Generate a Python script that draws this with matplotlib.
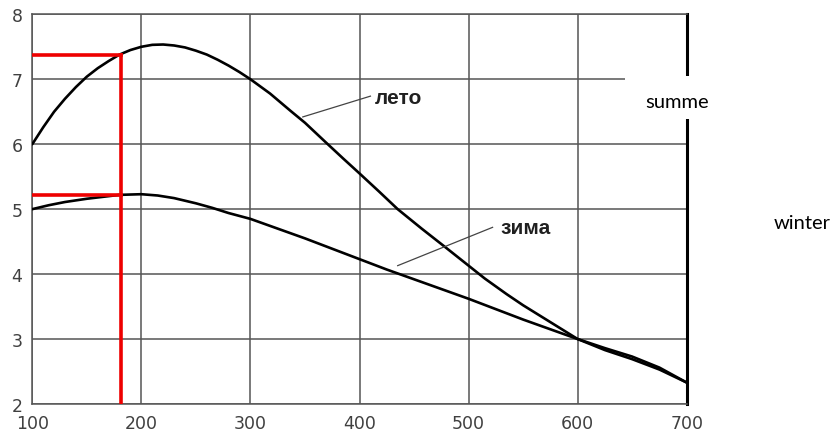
import matplotlib.pyplot as plt
from matplotlib.patches import Rectangle

# values
x_summer = [100, 110, 120, 130, 140, 150, 160, 170, 180, 190, 200, 210, 220, 230, 240, 250, 260, 270,
            280, 290, 300, 318, 337, 350, 369, 385, 400, 418, 435, 457, 479, 500, 515, 535, 550, 575,
            600, 625, 650, 675, 700]
y_summer = [6.0, 6.26, 6.5, 6.7, 6.88, 7.04, 7.17, 7.28, 7.38, 7.45, 7.5, 7.53, 7.535, 7.52, 7.49, 7.44,
            7.38, 7.3, 7.21, 7.11, 7.0, 6.78, 6.51, 6.33, 6.03, 5.78, 5.55, 5.27, 5.0, 4.7, 4.41, 4.13,
            3.93, 3.69, 3.52, 3.26, 3.0, 2.83, 2.69, 2.53, 2.33]

x_winter = [100, 115, 130, 150, 165, 180, 200, 215, 230, 250, 265, 280, 300, 325, 350, 375, 400, 425,
            450, 475, 500, 525, 550, 575, 600, 625, 650, 675, 700]
y_winter = [5.0, 5.06, 5.11, 5.16, 5.19, 5.22, 5.23, 5.21, 5.17, 5.09, 5.02, 4.94, 4.85, 4.7, 4.55,
            4.39, 4.23, 4.07, 3.92, 3.77, 3.62, 3.46, 3.3, 3.15, 3.0, 2.86, 2.73, 2.56, 2.33]

x_mark = 181
y_mark_summer = 7.38
y_mark_winter = 5.22

x_ticks = [100, 200, 300, 400, 500, 600, 700]
y_ticks = [2, 3, 4, 5, 6, 7, 8]

fig = plt.figure(figsize=(8.32, 4.35), dpi=100)
ax = fig.add_axes([0.0388, 0.069, 0.7866, 0.8958])

grid_c = '#555555'
ax.set_xlim(100, 700)
ax.set_ylim(2, 8)
ax.set_xticks(x_ticks)
ax.set_yticks(y_ticks)
ax.grid(True, color=grid_c, lw=1.1)
ax.set_axisbelow(True)
ax.tick_params(length=0, labelsize=12.5, labelcolor='#404040', pad=7)
for side in ['left', 'bottom', 'top']:
    ax.spines[side].set_color(grid_c)
    ax.spines[side].set_linewidth(1.1)
ax.spines['right'].set_color('black')
ax.spines['right'].set_linewidth(2.2)

ax.plot(x_summer, y_summer, color='black', lw=1.9, solid_capstyle='round', solid_joinstyle='round', zorder=3)
ax.plot(x_winter, y_winter, color='black', lw=1.9, solid_capstyle='round', solid_joinstyle='round', zorder=3)

# red marker lines
ax.plot([100, x_mark], [y_mark_summer, y_mark_summer], color='#ee0000', lw=2.6, zorder=4)
ax.plot([100, x_mark], [y_mark_winter, y_mark_winter], color='#ee0000', lw=2.6, zorder=4)
ax.plot([x_mark, x_mark], [2, y_mark_summer], color='#ee0000', lw=2.6, zorder=4)

# labels on the curves
ax.plot([348, 410], [6.42, 6.74], color='#444444', lw=0.9, zorder=3)
ax.text(414, 6.72, 'лето', fontsize=15, fontweight='bold', family='Liberation Sans',
        color='#202020', va='center', ha='left')
ax.plot([435, 522], [4.13, 4.72], color='#444444', lw=0.9, zorder=3)
ax.text(529, 4.72, 'зима', fontsize=15, fontweight='bold', family='Liberation Sans',
        color='#202020', va='center', ha='left')

# white patch pasted over the right edge, with the english captions
fig.patches.append(Rectangle((625 / 832, 1 - 120 / 435), 207 / 832, 43 / 435,
                             transform=fig.transFigure, facecolor='white',
                             edgecolor='none', zorder=10))
fig.text(677 / 832, 1 - 102 / 435, 'summe', fontsize=14.5, family='Lato',
         ha='center', va='center', zorder=11)
fig.text(802 / 832, 1 - 224 / 435, 'winter', fontsize=14.5, family='Lato',
         ha='center', va='center', zorder=11)

fig.savefig('out.png', dpi=100)
